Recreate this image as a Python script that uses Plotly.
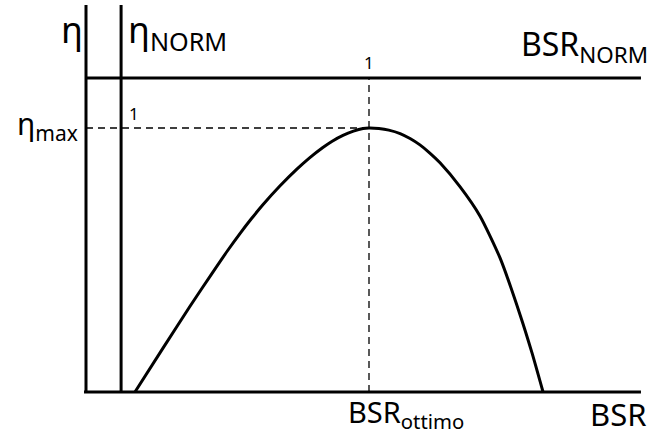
import plotly.graph_objects as go

# Efficiency curve eta(BSR), normalised so that BSR_ottimo = 1 and eta_max = 1
bsr = [0.173, 0.272, 0.367, 0.449, 0.500, 0.544, 0.585, 0.625, 0.685, 0.746, 0.790,
       0.837, 0.870, 0.908, 0.945, 0.979, 1.0,
       1.035, 1.070, 1.110, 1.145, 1.180, 1.215, 1.251, 1.322, 1.392, 1.463,
       1.534, 1.576, 1.615]
eta = [0.0, 0.166, 0.324, 0.455, 0.535, 0.600, 0.657, 0.709, 0.780, 0.845, 0.887,
       0.926, 0.950, 0.972, 0.988, 0.998, 1.0,
       0.998, 0.992, 0.979, 0.960, 0.936, 0.905, 0.868, 0.777, 0.667, 0.508,
       0.292, 0.148, 0.0]

bsr_opt = 1.0
eta_max = 1.0
x_norm_axis = 0.124      # position of the eta_NORM axis
y_norm_axis = 1.189      # position of the BSR_NORM axis
x_end = 1.961
y_top = 1.466

FONT = "Noto Sans"
BLACK = "#000000"

fig = go.Figure()

def line(xs, ys, width=3, dash="solid"):
    fig.add_trace(go.Scatter(x=xs, y=ys, mode="lines", hoverinfo="skip",
                             line=dict(color=BLACK, width=width, dash=dash)))

# axes
line([0, 0], [0, y_top])
line([-0.007, x_end], [0, 0])
line([x_norm_axis, x_norm_axis], [0, y_top])
line([0, x_end], [y_norm_axis, y_norm_axis])

# guides to the optimum
line([0, bsr_opt], [eta_max, eta_max], width=1.3, dash="7px,5px")
line([bsr_opt, bsr_opt], [0, y_norm_axis], width=1.3, dash="7px,5px")

# efficiency curve
fig.add_trace(go.Scatter(x=bsr, y=eta, mode="lines", hoverinfo="skip",
                         line=dict(color=BLACK, width=3, shape="spline", smoothing=0.6)))

def label(text, x, y, size, xanchor="center", yanchor="middle"):
    fig.add_annotation(x=x, y=y, text=text, showarrow=False, xref="x", yref="y",
                       xanchor=xanchor, yanchor=yanchor,
                       font=dict(family=FONT, size=size, color=BLACK))

label("η", -0.048, 1.372, 36)
label("η<sub>NORM</sub>", 0.141, 1.366, 36, xanchor="left")
label("BSR<sub>NORM</sub>", 1.993, 1.311, 32, xanchor="right")
label("1", bsr_opt, 1.25, 17)
label("1", 0.145, 1.055, 17, xanchor="left")
label("η<sub>max</sub>", -0.022, 1.011, 30, xanchor="right")
label("BSR<sub>ottimo</sub>", 1.130, -0.083, 29)
label("BSR", 1.985, -0.083, 31, xanchor="right")

fig.update_layout(
    width=652, height=435,
    margin=dict(l=0, r=0, t=0, b=0),
    paper_bgcolor="white", plot_bgcolor="white",
    showlegend=False,
    font=dict(family=FONT, size=17, color=BLACK),
    xaxis=dict(range=[-86 / 283, 566 / 283], visible=False, fixedrange=True),
    yaxis=dict(range=[-43 / 264, 392 / 264], visible=False, fixedrange=True),
)

fig.write_html("out.html")
